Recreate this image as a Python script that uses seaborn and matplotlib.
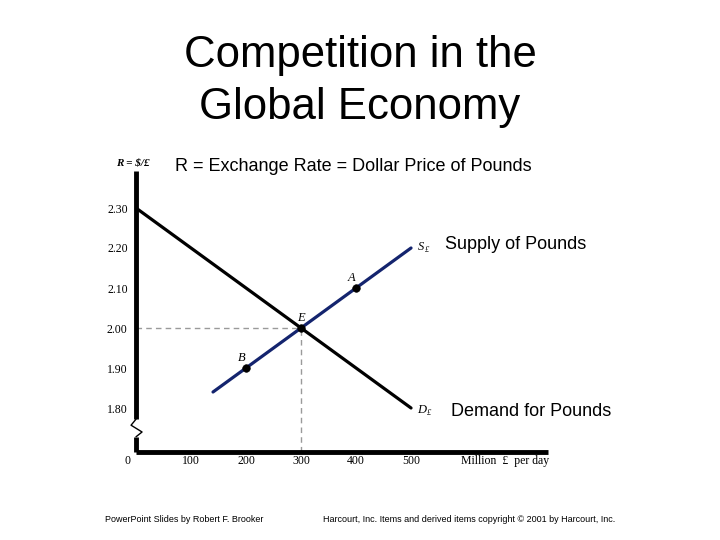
import numpy as np
import pandas as pd
import seaborn as sns
import matplotlib.pyplot as plt

# chart values
quantity = [0, 100, 200, 300, 400, 500]
demand_price = [2.30, 2.20, 2.10, 2.00, 1.90, 1.80]
supply_qty = [140, 200, 300, 400, 500]
supply_price = [1.84, 1.90, 2.00, 2.10, 2.20]
point_names = ["A", "B", "E"]
point_qty = [400, 200, 300]
point_price = [2.10, 1.90, 2.00]
y_ticks = [1.80, 1.90, 2.00, 2.10, 2.20, 2.30]
x_ticks = [100, 200, 300, 400, 500]

sns.set_style("white")
plt.rcParams["font.family"] = ["Liberation Sans", "DejaVu Sans"]
plt.rcParams["text.color"] = "black"
plt.rcParams["xtick.labelcolor"] = "black"
plt.rcParams["ytick.labelcolor"] = "black"
SERIF = ["Liberation Serif", "DejaVu Serif"]

fig = plt.figure(figsize=(7.2, 5.4), dpi=100)
ax = fig.add_axes([136 / 720, 88 / 540, 412 / 720, 281 / 540])

demand = pd.DataFrame({"q": quantity, "r": demand_price})
supply = pd.DataFrame({"q": supply_qty, "r": supply_price})
points = pd.DataFrame({"q": point_qty, "r": point_price, "name": point_names})

# dashed guides to equilibrium
eq_q, eq_r = point_qty[2], point_price[2]
ax.plot([0, eq_q], [eq_r, eq_r], color="#9a9a9a", lw=1, ls=(0, (4, 3)))
ax.plot([eq_q, eq_q], [1.69, eq_r], color="#9a9a9a", lw=1, ls=(0, (4, 3)))

sns.lineplot(data=demand, x="q", y="r", color="black", lw=2.3, ax=ax)
sns.lineplot(data=supply, x="q", y="r", color="#14246e", lw=2.3, ax=ax)
sns.scatterplot(data=points, x="q", y="r", color="black", s=30, zorder=5,
                edgecolor="black", ax=ax)

ax.set_xlim(0, 749)
ax.set_ylim(1.69, 2.3925)

# axes: thick lines with a break on the vertical axis
for side in ["top", "right", "left"]:
    ax.spines[side].set_visible(False)
ax.spines["bottom"].set_linewidth(3.5)
ax.spines["bottom"].set_color("black")
ax.spines["bottom"].set_capstyle("butt")
ax.plot([0, 0], [2.3925, 1.772], color="black", lw=3.5, clip_on=False,
        solid_capstyle="butt")
ax.plot([0, -9, 11, 0], [1.772, 1.757, 1.740, 1.728], color="black", lw=1,
        clip_on=False)
ax.plot([0, 0], [1.728, 1.69], color="black", lw=3.5, clip_on=False,
        solid_capstyle="butt")

ax.set_yticks(y_ticks)
ax.set_yticklabels([f"{v:.2f}" for v in y_ticks], family=SERIF, fontsize=8.5)
ax.set_xticks(x_ticks)
ax.set_xticklabels([str(v) for v in x_ticks], family=SERIF, fontsize=8.5)
ax.tick_params(axis="both", direction="in", length=6, width=0.8,
               color="#a0a0a0")
ax.tick_params(axis="x", pad=2)
ax.tick_params(axis="y", pad=6)
ax.set_xlabel("")
ax.set_ylabel("")
ax.text(-15, 1.6825, "0", family=SERIF, fontsize=8.5, ha="center", va="top")

# point labels
offsets = {"A": (-8, 0.025), "B": (-8, 0.025), "E": (0, 0.025)}
for _, row in points.iterrows():
    dx, dy = offsets[row["name"]]
    ax.text(row["q"] + dx, row["r"] + dy, row["name"], family=SERIF,
            style="italic", fontsize=9, ha="center", va="center")

# curve labels
ax.text(512, 2.203, "S", family=SERIF, style="italic", fontsize=9,
        ha="left", va="center")
ax.text(525, 2.196, "£", family=SERIF, style="italic", fontsize=6,
        ha="left", va="center")
ax.text(511, 1.795, "D", family=SERIF, style="italic", fontsize=9,
        ha="left", va="center")
ax.text(529, 1.788, "£", family=SERIF, style="italic", fontsize=6,
        ha="left", va="center")

fig.text(133 / 720, 1 - 163 / 540, "R = $/£", family=SERIF, style="italic",
         fontweight="bold", fontsize=8, ha="center", va="center")
fig.text(505 / 720, 1 - 461 / 540, "Million  £  per day", family=SERIF,
         fontsize=8.5, ha="center", va="center")

# slide text
fig.text(0.5, 1 - 67 / 540, "Competition in the", fontsize=31.5,
         ha="center", va="baseline")
fig.text(0.5, 1 - 119 / 540, "Global Economy", fontsize=31.5,
         ha="center", va="baseline")
fig.text(353 / 720, 1 - 171 / 540, "R = Exchange Rate = Dollar Price of Pounds",
         fontsize=13, ha="center", va="baseline")
fig.text(445 / 720, 1 - 249 / 540, "Supply of Pounds", fontsize=13,
         ha="left", va="baseline")
fig.text(451 / 720, 1 - 416 / 540, "Demand for Pounds", fontsize=13,
         ha="left", va="baseline")
fig.text(105 / 720, 1 - 520 / 540, "PowerPoint Slides by Robert F. Brooker",
         fontsize=6.5, ha="left", va="center")
fig.text(323 / 720, 1 - 520 / 540,
         "Harcourt, Inc. Items and derived items copyright © 2001 by Harcourt, Inc.",
         fontsize=6.5, ha="left", va="center")

fig.savefig("out.png", dpi=100)
